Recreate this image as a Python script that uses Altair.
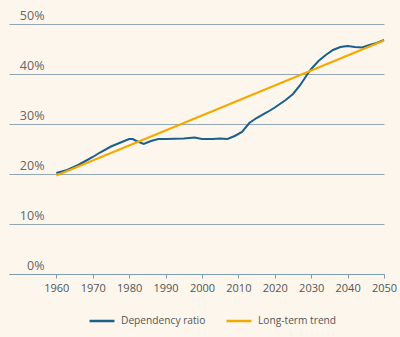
import altair as alt
import pandas as pd

years = [1960, 1963, 1966, 1968, 1970, 1972, 1975, 1978, 1980, 1981, 1982, 1984, 1986, 1988,
         1990, 1995, 1998, 2000, 2003, 2005, 2007, 2009, 2011, 2013, 2015, 2018, 2020, 2023,
         2025, 2027, 2029, 2030, 2032, 2034, 2036, 2038, 2040, 2042, 2044, 2046, 2048, 2050]
dependency = [20.2, 20.8, 21.8, 22.6, 23.4, 24.3, 25.5, 26.4, 27.0, 27.0, 26.6, 26.0, 26.6, 27.0,
              27.0, 27.1, 27.3, 27.0, 27.0, 27.1, 27.0, 27.6, 28.4, 30.2, 31.2, 32.4, 33.3, 34.8,
              36.0, 37.8, 40.0, 41.0, 42.6, 43.8, 44.8, 45.4, 45.6, 45.4, 45.3, 45.8, 46.2, 46.8]
trend_years = [1960, 2050]
trend_values = [19.7, 46.7]

series_names = ["Dependency ratio", "Long-term trend"]
colors = ["#1b5f8c", "#f5a800"]

df = pd.concat([
    pd.DataFrame({"year": years, "value": dependency, "series": series_names[0]}),
    pd.DataFrame({"year": trend_years, "value": trend_values, "series": series_names[1]}),
])

font = "Open Sans"

chart = alt.Chart(df).mark_line(strokeWidth=2).encode(
    x=alt.X("year:Q", scale=alt.Scale(domain=[1947, 2050], nice=False, zero=False),
            axis=alt.Axis(values=list(range(1960, 2051, 10)), format="d", title=None,
                          grid=False, domainColor="#7f9bb0", tickColor="#7f9bb0",
                          tickSize=4, labelFontSize=11, labelColor="#555555",
                          labelFont=font, labelPadding=4, labelFlush=False)),
    y=alt.Y("value:Q", scale=alt.Scale(domain=[0, 50], nice=False),
            axis=alt.Axis(values=[0, 10, 20, 30, 40, 50], labelExpr="datum.value + '%'",
                          title=None, domain=False, ticks=False, grid=True,
                          gridColor="#93a7b6", gridWidth=1,
                          labelAlign="right", labelBaseline="bottom", labelPadding=-35,
                          labelOffset=-2, labelFontSize=12.5, labelColor="#666666",
                          labelFont=font)),
    color=alt.Color("series:N", scale=alt.Scale(domain=series_names, range=colors),
                    legend=alt.Legend(orient="none", legendX=79, legendY=283,
                                      direction="horizontal", title=None,
                                      symbolType="stroke", symbolSize=625,
                                      symbolStrokeWidth=2.5, labelFontSize=10.2,
                                      labelFont=font, labelColor="#555555",
                                      gridAlign="none",
                                      columnPadding=15, labelOffset=5)),
).properties(
    width=375, height=250,
    autosize=alt.AutoSizeParams(type="none"),
    padding={"left": 9, "top": 24, "right": 16, "bottom": 63},
    background="#fdf6ec",
).configure_view(stroke=None)

chart.save("out.html", embed_options={"renderer": "svg", "actions": False})
